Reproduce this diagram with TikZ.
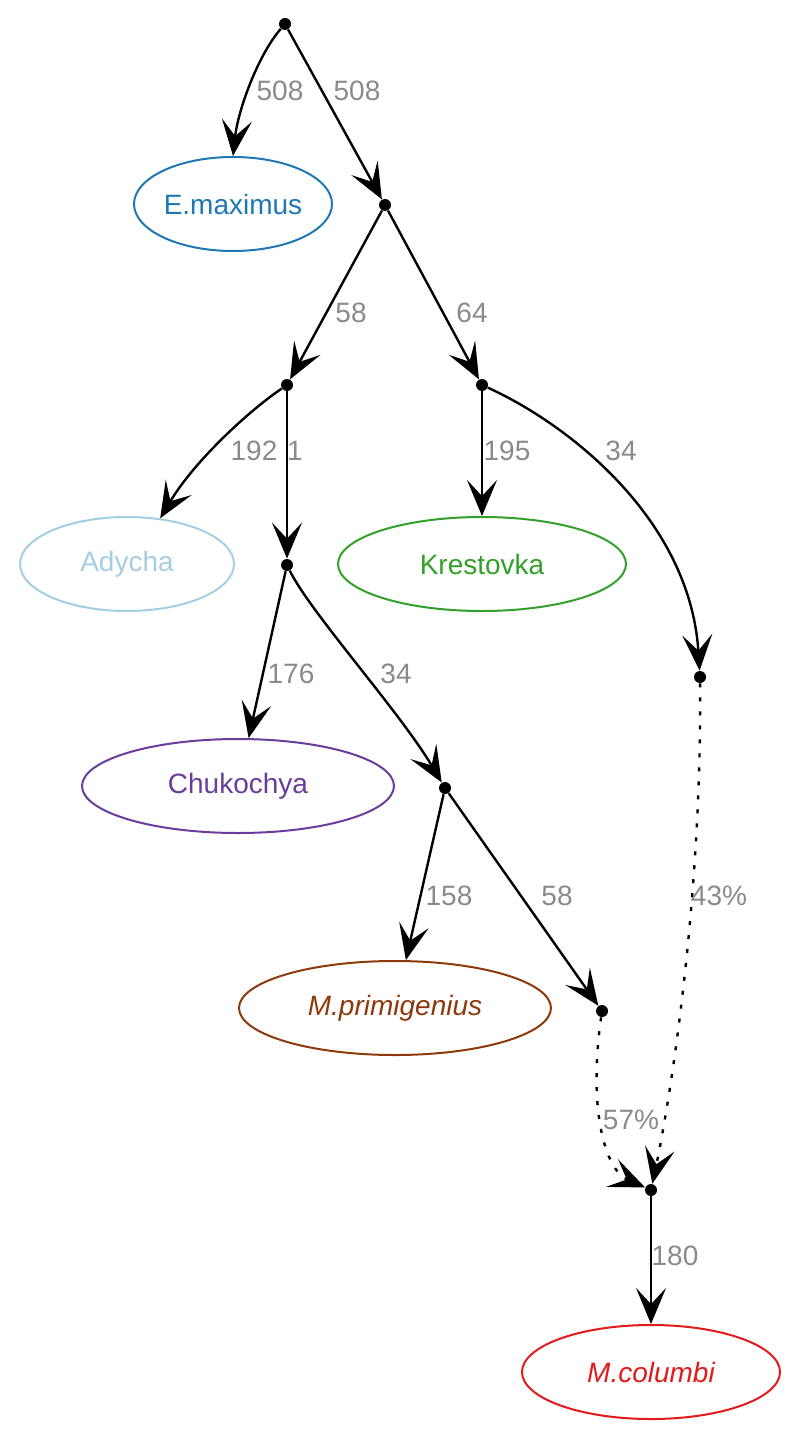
\documentclass[tikz,border=0pt]{standalone}
\usepackage{fontspec}
\setmainfont{Liberation Sans}
\usetikzlibrary{arrows.meta,shapes.geometric}
\definecolor{cEmax}{HTML}{1F78B4}
\definecolor{cAdy}{HTML}{A6CEE3}
\definecolor{cKre}{HTML}{33A02C}
\definecolor{cChu}{HTML}{6A3D9A}
\definecolor{cPri}{HTML}{8C3A0C}
\definecolor{cCol}{HTML}{E31A1C}
\definecolor{cLbl}{HTML}{8A8A8A}
\begin{document}
\begin{tikzpicture}[
  x=0.5pt, y=-0.5pt,
  font=\fontsize{14}{16}\selectfont,
  pt/.style={circle,fill=black,inner sep=0pt,minimum size=6pt},
  leaf/.style={ellipse,draw,line width=1pt,inner sep=0pt,minimum width=#1,minimum height=47pt},
  leaf/.default=99pt,
  flow/.style={-{Stealth[length=18pt,width=15pt,inset=8pt]},line width=1.2pt},
  mix/.style={flow,dash pattern=on 2pt off 5pt},
  lbl/.style={text=cLbl},
]
\useasboundingbox (0,0) rectangle (800,1439);
% inner points
\node[pt] (r0) at (285,24) {};
\node[pt] (n1) at (385,205) {};
\node[pt] (n2) at (287,385) {};
\node[pt] (n3) at (482,385) {};
\node[pt] (n4) at (287,565) {};
\node[pt] (n5) at (700,677) {};
\node[pt] (n6) at (445,788) {};
\node[pt] (n7) at (602,1011) {};
\node[pt] (n8) at (651,1190) {};
% leaves
\node[leaf=99pt,draw=cEmax,text=cEmax] (emax) at (233,204) {E.maximus};
\node[leaf=107pt,draw=cAdy,text=cAdy] (ady) at (127,564) {Adycha};
\node[leaf=144pt,draw=cKre,text=cKre] (kre) at (482,564) {Krestovka};
\node[leaf=156pt,draw=cChu,text=cChu] (chu) at (238,786) {Chukochya};
\node[leaf=156pt,draw=cPri,text=cPri] (pri) at (395,1008) {\itshape M.primigenius};
\node[leaf=129pt,draw=cCol,text=cCol] (col) at (651,1372) {\itshape M.columbi};
% edges
\draw[flow] (r0) .. controls (258,55) and (238,110) .. (emax.north);
\draw[flow] (r0) -- (n1);
\draw[flow] (n1) -- (n2);
\draw[flow] (n1) -- (n3);
\draw[flow] (n2) .. controls (250,410) and (195,460) .. (ady.54);
\draw[flow] (n2) -- (n4);
\draw[flow] (n3) -- (kre);
\draw[flow] (n3) .. controls (570,425) and (690,520) .. (n5);
\draw[flow] (n4) -- (chu);
\draw[flow] (n4) .. controls (310,612) and (400,712) .. (n6);
\draw[flow] (n6) -- (pri);
\draw[flow] (n6) -- (n7);
\draw[mix] (n5) .. controls (702,900) and (670,1100) .. (n8);
\draw[mix] (n7) .. controls (588,1110) and (605,1170) .. (n8);
\draw[flow] (n8) -- (col);
% weights
\node[lbl] (w1) at (280,91) {508};
\node[lbl] (w2) at (357,91) {508};
\node[lbl] (w3) at (351,313) {58};
\node[lbl] (w4) at (472,313) {64};
\node[lbl] (w5) at (254,451) {192};
\node[lbl] (w6) at (295,451) {1};
\node[lbl] (w7) at (507,451) {195};
\node[lbl] (w8) at (621,451) {34};
\node[lbl] (w9) at (291,674) {176};
\node[lbl] (w10) at (396,674) {34};
\node[lbl] (w11) at (449,896) {158};
\node[lbl] (w12) at (557,896) {58};
\node[lbl] (w13) at (719,896) {43\%};
\node[lbl] (w14) at (631,1120) {57\%};
\node[lbl] (w15) at (675,1256) {180};
\end{tikzpicture}
\end{document}
